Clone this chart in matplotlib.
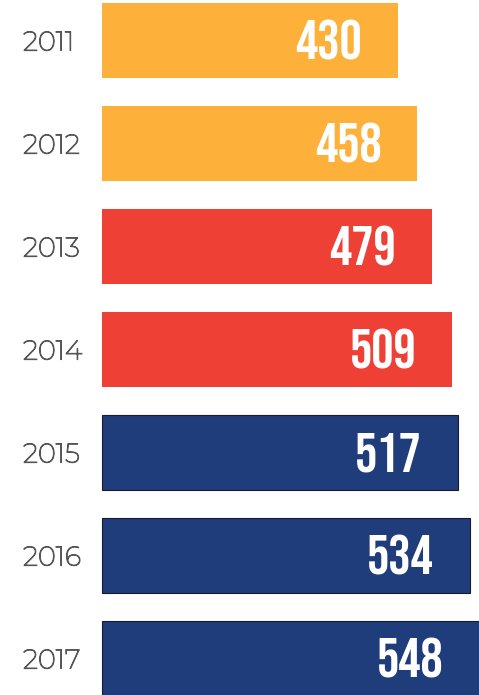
import matplotlib
matplotlib.use("Agg")
import matplotlib.pyplot as plt
import matplotlib.patheffects as pe

years = ["2011", "2012", "2013", "2014", "2015", "2016", "2017"]
values = [430, 458, 479, 509, 517, 534, 548]
colors = ["#FDB13A", "#FDB13A", "#EF4036", "#EF4036", "#1F3D7A", "#1F3D7A", "#1F3D7A"]
edges = ["none", "none", "none", "none", "#1a1a2e", "#1a1a2e", "#1a1a2e"]

fig = plt.figure(figsize=(4.79, 6.95), dpi=100)
ax = fig.add_axes([0, 0, 1, 1])

px_per_unit = 0.6884
for i, (v, c, e) in enumerate(zip(values, colors, edges)):
    ax.barh(i, v, height=0.728, color=c, edgecolor=e, linewidth=0.8 if e != "none" else 0)
    ax.text(v - 36 / px_per_unit, i - 0.005, str(v), ha="right", va="center",
            color="white", fontsize=40,
            family=["Bebas Neue", "Oswald", "DejaVu Sans"])
    ax.text(-79 / px_per_unit, i + 0.025, years[i], ha="left", va="center",
            color="#555555", fontsize=19.5,
            family=["Montserrat", "Lato", "DejaVu Sans"],
            path_effects=[pe.withStroke(linewidth=0.8, foreground="#555555")])

ax.set_xlim(-102 / px_per_unit, 377 / px_per_unit)
ax.set_ylim((695 - 40.5) / 103, -40.5 / 103)
ax.axis("off")
fig.savefig("out.png", dpi=100)
